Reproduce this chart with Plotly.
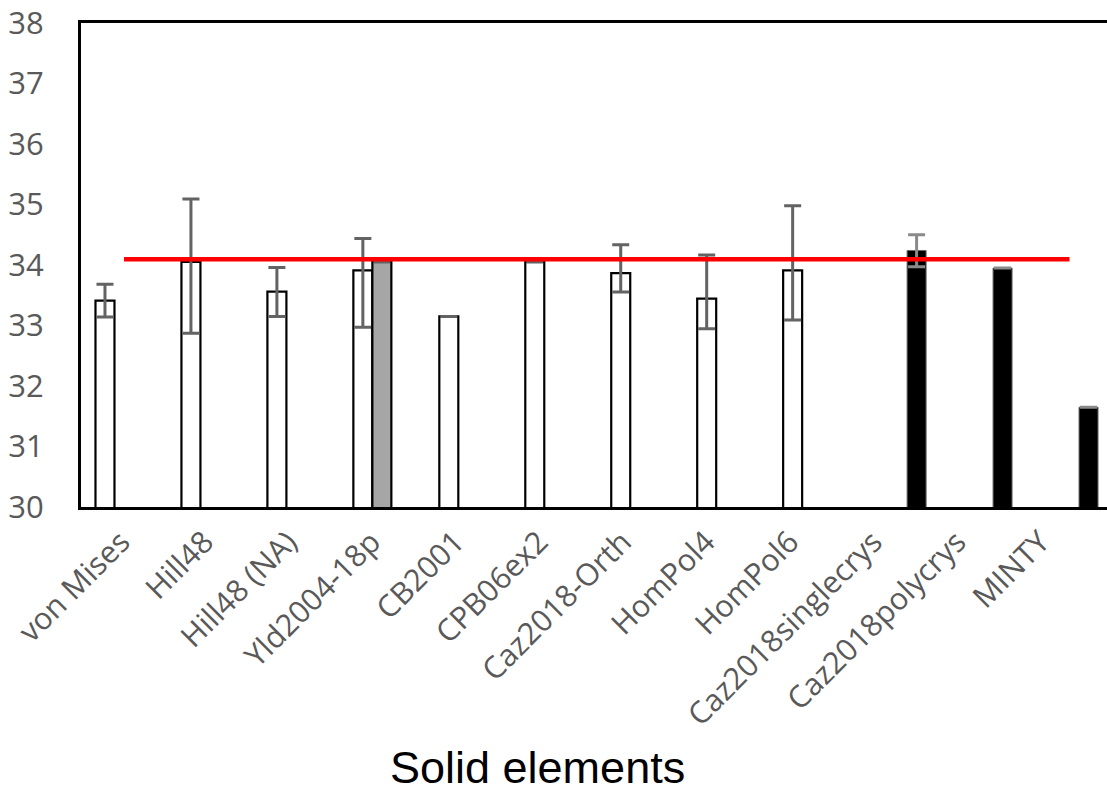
import plotly.graph_objects as go

categories = ["von Mises", "Hill48", "Hill48 (NA)", "Yld2004-18p", "CB2001", "CPB06ex2",
              "Caz2018-Orth", "HomPol4", "HomPol6", "Caz2018singlecrys", "Caz2018polycrys", "MINTY"]

white_vals = [33.41, 34.05, 33.56, 33.91, 33.15, 34.05, 33.865, 33.445, 33.91, None, None, None]
white_err_plus = [0.27, 1.04, 0.40, 0.53, 0.0, 0.0, 0.47, 0.72, 1.07, None, None, None]
white_err_minus = [0.27, 1.18, 0.41, 0.94, 0.0, 0.0, 0.31, 0.50, 0.82, None, None, None]

grey_vals = [None, None, None, 34.05, None, None, None, None, None, None, None, None]
grey_err = [None, None, None, 0.0, None, None, None, None, None, None, None, None]

black_vals = [None, None, None, None, None, None, None, None, None, 34.24, 33.95, 31.65]
black_err_plus = [None, None, None, None, None, None, None, None, None, 0.26, 0.0, 0.0]
black_err_minus = [None, None, None, None, None, None, None, None, None, 0.27, 0.0, 0.0]

reference_value = 34.095
reference_x = [categories[0], categories[-1]]
reference_y = [reference_value, reference_value]

y_ticks = [30, 31, 32, 33, 34, 35, 36, 37, 38]
label_index = list(range(len(categories)))

fig = go.Figure()
fig.add_trace(go.Bar(
    x=categories, y=white_vals,
    marker=dict(color="white", line=dict(color="black", width=2.2)),
    error_y=dict(type="data", symmetric=False, array=white_err_plus, arrayminus=white_err_minus,
                 color="#636363", thickness=3, width=8.5),
))
fig.add_trace(go.Bar(
    x=categories, y=grey_vals,
    marker=dict(color="#a6a6a6", line=dict(color="black", width=2.2)),
    error_y=dict(type="data", array=grey_err, color="#636363", thickness=3, width=8.5),
))
fig.add_trace(go.Bar(
    x=categories, y=black_vals,
    marker=dict(color="black", line=dict(color="#666666", width=1)),
    error_y=dict(type="data", symmetric=False, array=black_err_plus, arrayminus=black_err_minus,
                 color="#8a8a8a", thickness=3, width=8.5),
))
fig.add_trace(go.Scatter(
    x=reference_x, y=reference_y, mode="lines",
    line=dict(color="#ff0000", width=4.5),
))
# helper (empty) trace that carries the category label axis
fig.add_trace(go.Scatter(
    x=label_index, y=[None] * len(label_index), xaxis="x2", mode="markers",
    marker=dict(opacity=0), hoverinfo="skip",
))

fig.update_layout(
    width=1107, height=792,
    margin=dict(l=80.5, r=0, t=22.7, b=284.5),
    plot_bgcolor="white", paper_bgcolor="white",
    showlegend=False,
    barmode="group", bargap=0.337, bargroupgap=0,
    font=dict(family="Open Sans", color="#595959"),
    xaxis2=dict(
        overlaying="x", anchor="y", side="bottom", automargin=False,
        range=[-0.478, 11.795], tickvals=label_index, ticktext=categories,
        showline=False, showgrid=False, zeroline=False, ticks="", tickangle=-45,
        tickfont=dict(family="Open Sans", size=30.5, color="#595959"),
        ticklabelstandoff=10,
    ),
)
fig.layout.xaxis.update(
    type="category", range=[-0.5, 11.436], automargin=False,
    showline=True, linecolor="black", linewidth=3, mirror=True,
    showgrid=False, ticks="", showticklabels=False,
)
fig.update_yaxes(
    range=[30, 38], tickvals=y_ticks, automargin=False,
    showline=True, linecolor="black", linewidth=3, mirror=False,
    showgrid=False, ticks="", zeroline=False,
    tickfont=dict(family="Open Sans", size=31, color="#595959"),
    ticklabelstandoff=28, ticklabeloverflow="allow",
)
fig.add_annotation(
    text="Solid elements", xref="paper", yref="paper", x=0.445, y=0,
    yshift=-233, yanchor="top", xanchor="center", showarrow=False,
    font=dict(family="Liberation Sans", size=45, color="black"),
)

fig.write_html(
    "out.html",
    config={"displayModeBar": False},
    post_script="document.body.style.margin='0px'; document.body.style.overflow='hidden';",
)
